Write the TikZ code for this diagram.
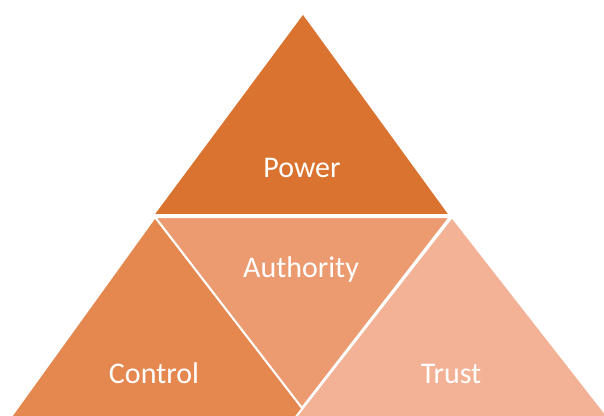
\documentclass[tikz,border=0pt]{standalone}
\usepackage{fontspec}
\setmainfont{Carlito}
\definecolor{cpower}{RGB}{217,115,47}
\definecolor{ccontrol}{RGB}{229,136,80}
\definecolor{cauth}{RGB}{236,155,112}
\definecolor{ctrust}{RGB}{243,178,150}
\tikzset{
  tri/.style={draw=white, line width=2pt, line join=miter},
  lbl/.style={text=white, font=\fontsize{30}{35}\selectfont, anchor=base, inner sep=0pt}
}
\begin{document}
\begin{tikzpicture}[x=1pt,y=-1pt]
\useasboundingbox (0,0) rectangle (604,415);
\clip (0,0) rectangle (604,415);
\fill[white] (0,0) rectangle (604,415);
% Power
\filldraw[tri, fill=cpower] (303,13) -- (153,215) -- (450,215) -- cycle;
% Control
\filldraw[tri, fill=ccontrol] (155,217) -- (10,418) -- (310,418) -- cycle;
% Trust
\filldraw[tri, fill=ctrust] (452,217) -- (295,418) -- (609,418) -- cycle;
% Authority
\filldraw[tri, fill=cauth] (155,217) -- (450,217) -- (302,408) -- cycle;
\node[lbl] (power) at (302,177) {Power};
\node[lbl] (authority) at (301,277) {Authority};
\node[lbl] (control) at (154,383) {Control};
\node[lbl] (trust) at (451,383) {Trust};
\end{tikzpicture}
\end{document}
